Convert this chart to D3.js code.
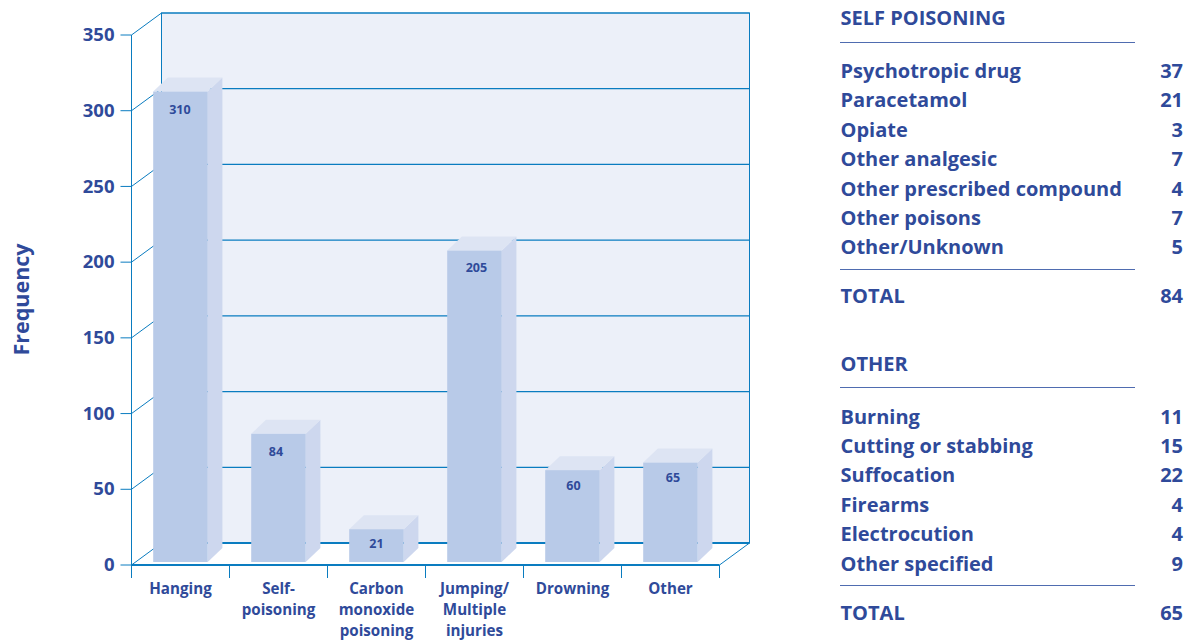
<!DOCTYPE html>
<html><head><meta charset="utf-8">
<script src="https://cdn.jsdelivr.net/npm/d3@7"></script>
<style>html,body{margin:0;background:#fff}svg{display:block}text{font-family:"Open Sans","Noto Sans",sans-serif;font-weight:700;fill:#2f4a9a}</style>
</head><body><svg id="c" width="1194" height="640"></svg>
<script>
const categories=["Hanging","Self-|poisoning","Carbon|monoxide|poisoning","Jumping/|Multiple|injuries","Drowning","Other"];
const frequency=[310,84,21,205,60,65];
const yTicks=[0,50,100,150,200,250,300,350];
const selfPoisoningLabels=["Psychotropic drug","Paracetamol","Opiate","Other analgesic","Other prescribed compound","Other poisons","Other/Unknown"];
const selfPoisoningValues=[37,21,3,7,4,7,5];
const otherLabels=["Burning","Cutting or stabbing","Suffocation","Firearms","Electrocution","Other specified"];
const otherValues=[11,15,22,4,4,9];
const selfTotal=84, otherTotal=65;

const AXIS="#0a7cc0";
const svg=d3.select("#c");
const x=d3.scaleBand().domain(d3.range(categories.length)).range([131.5,719.5]);
const y=d3.scaleLinear().domain([0,350]).range([565,35]);
const DX=30,DY=-22, BDX=14.7,BDY=-14, LIFT=-3, BARW=54.5, INSET=21.7;

svg.append("rect").attr("x",x.range()[0]+DX).attr("y",y(350)+DY)
  .attr("width",x.range()[1]-x.range()[0]).attr("height",y(0)-y(350))
  .attr("fill","#ecf0f9").attr("stroke",AXIS).attr("stroke-width",1);
svg.selectAll(".g").data(yTicks).join("line")
  .attr("x1",x.range()[0]+DX).attr("x2",x.range()[1]+DX)
  .attr("y1",d=>y(d)+DY).attr("y2",d=>y(d)+DY)
  .attr("stroke",AXIS).attr("stroke-width",d=>d===0?2:1.2);
svg.selectAll(".d").data(yTicks).join("line")
  .attr("x1",x.range()[0]).attr("x2",x.range()[0]+DX)
  .attr("y1",d=>y(d)).attr("y2",d=>y(d)+DY).attr("stroke",AXIS).attr("stroke-width",1);
svg.append("line").attr("x1",x.range()[1]).attr("x2",x.range()[1]+DX)
  .attr("y1",y(0)).attr("y2",y(0)+DY).attr("stroke",AXIS).attr("stroke-width",1);
svg.append("line").attr("x1",x.range()[0]).attr("x2",x.range()[0]).attr("y1",y(350)).attr("y2",y(0)+13).attr("stroke",AXIS).attr("stroke-width",1);
svg.selectAll(".t").data(yTicks).join("line")
  .attr("x1",x.range()[0]-11).attr("x2",x.range()[0]).attr("y1",d=>y(d)).attr("y2",d=>y(d)).attr("stroke",AXIS).attr("stroke-width",1);
svg.selectAll(".yl").data(yTicks).join("text")
  .attr("x",114.5).attr("y",d=>y(d)-.5).attr("dy","0.36em").attr("text-anchor","end")
  .attr("font-size",18.5).text(d=>d);
svg.append("line").attr("x1",x.range()[0]).attr("x2",x.range()[1]).attr("y1",y(0)).attr("y2",y(0)).attr("stroke",AXIS).attr("stroke-width",2);
svg.selectAll(".bt").data(d3.range(categories.length+1)).join("line")
  .attr("x1",i=>x.range()[0]+i*x.step()).attr("x2",i=>x.range()[0]+i*x.step())
  .attr("y1",y(0)).attr("y2",y(0)+13).attr("stroke",AXIS).attr("stroke-width",1);
const bars=svg.selectAll(".b").data(frequency).join("g");
const bx=(d,i)=>x(i)+INSET, barTop=d=>y(d)+LIFT-1, bot=y(0)+LIFT;
bars.append("path").attr("fill","#cdd7ee").attr("d",(d,i)=>{const X=bx(d,i)+BARW;return `M${X},${barTop(d)}l${BDX},${BDY}L${X+BDX},${bot+BDY}L${X},${bot}Z`});
bars.append("path").attr("fill","#dde4f3").attr("d",(d,i)=>{const X=bx(d,i);return `M${X},${barTop(d)}l${BDX},${BDY}h${BARW}l${-BDX},${-BDY}Z`});
bars.append("rect").attr("fill","#b8cae8").attr("x",bx).attr("y",barTop).attr("width",BARW).attr("height",d=>bot-barTop(d));
const labelDx=[-.5,-2.5,0,2,1,2.5], labelDy=[22,22,19,21,20,19];
bars.append("text").attr("x",(d,i)=>bx(d,i)+BARW/2+labelDx[i]).attr("y",(d,i)=>barTop(d)+labelDy[i]).attr("text-anchor","middle").attr("font-size",12.5).text(d=>d);
svg.selectAll(".cl").data(categories).join("text").attr("text-anchor","middle").attr("font-size",16.5)
  .each(function(d,i){
    d3.select(this).selectAll("tspan").data(d.split("|")).join("tspan")
      .attr("x",x(i)+x.bandwidth()/2).attr("y",(s,j)=>594.5+j*20.8).text(s=>s);
  }).attr("transform",(d,i)=>{const c=x(i)+x.bandwidth()/2;return `translate(${c},0) scale(.92,1) translate(${-c},0)`});
svg.append("text").attr("transform","translate(29,299.5) rotate(-90)").attr("text-anchor","middle").attr("font-size",21.5).text("Frequency");

function table(y0,title,labels,values,total){
  const rowY=d3.scaleLinear().domain([0,1]).range([y0+53,y0+82.4]);
  const g=svg.append("g");
  g.append("text").attr("x",840.5).attr("y",y0).attr("font-size",20).text(title);
  const rule=yy=>g.append("line").attr("x1",840).attr("x2",1135).attr("y1",yy).attr("y2",yy).attr("stroke","#4f6cb0").attr("stroke-width",1.2);
  rule(Math.round(y0+16.5)+.5);
  labels.forEach((l,i)=>{
    g.append("text").attr("x",840.5).attr("y",rowY(i)).attr("font-size",20).text(l);
    g.append("text").attr("x",1183).attr("y",rowY(i)).attr("font-size",20).attr("text-anchor","end").text(values[i]);
  });
  const end=rowY(labels.length-1);
  rule(Math.round(end+14.5)+.5);
  g.append("text").attr("x",840.5).attr("y",end+49).attr("font-size",20).text("TOTAL");
  g.append("text").attr("x",1183).attr("y",end+49).attr("font-size",20).attr("text-anchor","end").text(total);
}
table(25,"SELF POISONING",selfPoisoningLabels,selfPoisoningValues,selfTotal);
table(370.5,"OTHER",otherLabels,otherValues,otherTotal);
</script></body></html>
